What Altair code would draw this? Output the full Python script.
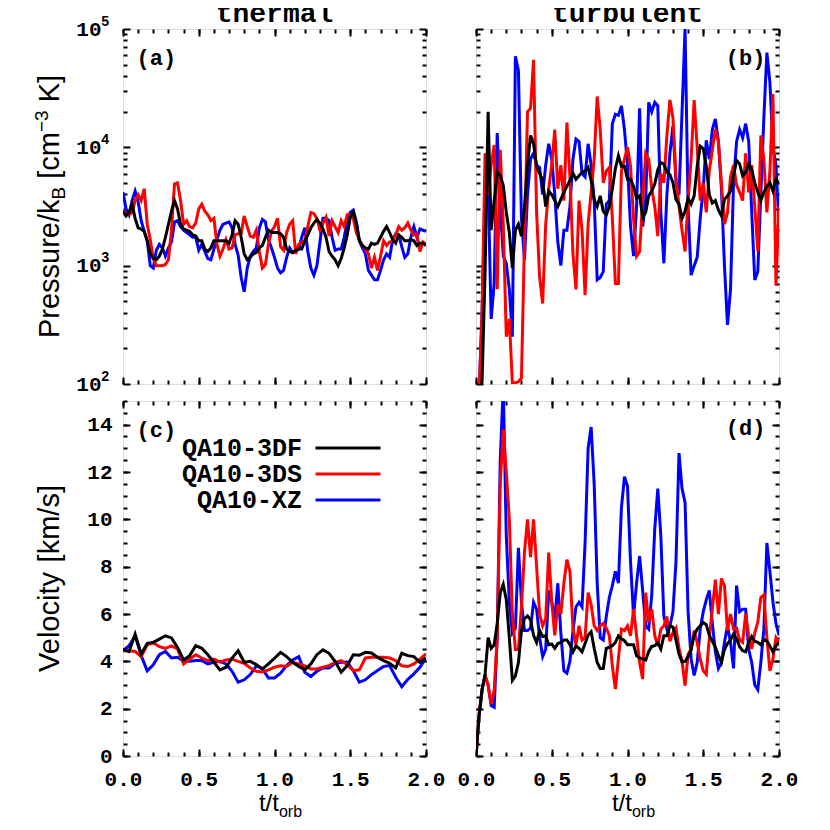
import altair as alt
import pandas as pd

RUNS = ["QA10-3DF", "QA10-3DS", "QA10-XZ"]
COLORS = ["#000000", "#ff0000", "#0000ff"]
DRAW_ORDER = ["QA10-XZ", "QA10-3DS", "QA10-3DF"]

T_FINE = [round(0.02 * i, 2) for i in range(101)]
T_COARSE = [round(0.04 * i, 2) for i in range(51)]

# ---- (a) thermal pressure, log10(P/kB) ----
a_3df = [3.46, 3.42, 3.45, 3.52, 3.40, 3.32, 3.31, 3.29, 3.21, 3.10, 3.06, 3.05, 3.08, 3.14, 3.24, 3.35, 3.46, 3.55, 3.48, 3.35,
         3.31, 3.30, 3.29, 3.26, 3.25, 3.21, 3.21, 3.14, 3.12, 3.15, 3.21, 3.21, 3.21, 3.21, 3.21, 3.19, 3.26, 3.38, 3.35, 3.24,
         3.10, 3.05, 3.07, 3.10, 3.11, 3.15, 3.17, 3.24, 3.30, 3.28, 3.28,
         3.28, 3.27, 3.24, 3.14, 3.12, 3.11, 3.13, 3.14, 3.14, 3.21, 3.26, 3.32, 3.36, 3.39, 3.36, 3.31, 3.24, 3.12, 3.08, 3.05,
         3.00, 3.06, 3.15, 3.26, 3.41, 3.45, 3.36, 3.21, 3.17, 3.15, 3.14, 3.19, 3.18, 3.19, 3.24, 3.29, 3.33, 3.28, 3.22, 3.19,
         3.26, 3.24, 3.21, 3.21, 3.22, 3.21, 3.17, 3.19, 3.19, 3.17]
a_3ds = [3.47, 3.44, 3.43, 3.45, 3.55, 3.60, 3.55, 3.65, 3.35, 3.22, 3.06, 3.00, 3.00, 3.00, 3.01, 3.05, 3.30, 3.69, 3.70, 3.55,
         3.35, 3.38, 3.33, 3.32, 3.36, 3.48, 3.52, 3.46, 3.43, 3.38, 3.40, 3.18, 3.08, 3.14, 3.22, 3.14, 3.15, 3.26, 3.27, 3.27,
         3.42, 3.33, 3.25, 3.24, 3.30, 3.12, 2.98, 3.01, 3.18, 3.29, 3.33,
         3.40, 3.16, 3.13, 3.28, 3.35, 3.38, 3.10, 3.18, 3.20, 3.21, 3.33, 3.45, 3.44, 3.40, 3.30, 3.36, 3.41, 3.25, 3.38, 3.33,
         3.28, 3.38, 3.33, 3.43, 3.43, 3.40, 3.28, 3.22, 3.17, 3.14, 3.10, 2.98, 3.07, 2.96, 3.08, 3.21, 3.17, 3.20, 3.21, 3.26,
         3.33, 3.30, 3.32, 3.36, 3.30, 3.26, 3.27, 3.12, 3.20, 3.18]
a_xz = [3.62, 3.48, 3.43, 3.55, 3.63, 3.54, 3.38, 3.29, 3.21, 3.00, 2.98, 3.13, 3.18, 3.15, 3.08, 3.15, 3.20, 3.37, 3.38, 3.33,
        3.30, 3.28, 3.26, 3.24, 3.24, 3.13, 3.18, 3.12, 3.06, 3.05, 3.14, 3.22, 3.30, 3.35, 3.36, 3.37, 3.32, 3.18, 3.09, 2.90,
        2.78, 2.98, 3.08, 3.12, 3.15, 3.32, 3.39, 3.37, 3.22, 3.15, 3.07,
        2.98, 2.94, 2.96, 3.07, 3.15, 3.11, 3.12, 3.14, 3.24, 3.32, 3.12, 2.98, 2.92, 3.00, 3.20, 3.40, 3.40, 3.38, 3.24, 3.13,
        3.14, 3.14, 3.24, 3.38, 3.45, 3.47, 3.37, 3.21, 3.15, 3.10, 2.96, 2.92, 2.88, 2.88, 2.96, 3.05, 3.10, 3.07, 3.22, 3.27,
        3.26, 3.16, 3.07, 3.10, 3.24, 3.33, 3.24, 3.31, 3.30, 3.29]

# ---- (b) turbulent pressure, log10(P/kB) ----
b_3df = [1.80, 1.90, 2.02, 2.95, 4.30, 3.30, 3.55, 3.79, 3.76, 3.68, 3.45, 3.28, 2.98, 3.30, 3.35, 3.25, 3.50, 3.85, 4.10, 4.03,
         3.84, 3.78, 3.72, 3.50, 3.63, 3.60, 3.55, 3.50, 3.56, 3.62, 3.67, 3.72, 3.78, 3.73, 3.76, 3.79, 3.80, 3.83, 3.72, 3.56,
         3.50, 3.59, 3.46, 3.43, 3.50, 3.65, 3.82, 3.93, 3.84, 3.84, 3.73,
         3.73, 3.67, 3.57, 3.59, 3.41, 3.45, 3.59, 3.63, 3.69, 3.81, 3.87, 3.86, 3.79, 3.77, 3.70, 3.56, 3.52, 3.40, 3.46, 3.57,
         3.52, 3.59, 3.84, 4.01, 3.99, 3.84, 3.60, 3.53, 3.55, 3.47, 3.42, 3.56, 3.59, 3.63, 3.76, 3.89, 3.86, 3.76, 3.79, 3.86,
         3.81, 3.70, 3.62, 3.55, 3.62, 3.67, 3.70, 3.63, 3.73, 3.69]
b_3ds = [1.80, 1.90, 2.60, 3.95, 3.60, 3.85, 4.02, 2.80, 3.98, 3.35, 2.40, 2.55, 2.01, 2.01, 2.02, 2.05, 3.20, 4.30, 4.33, 4.74,
         3.45, 2.90, 2.68, 3.35, 3.65, 3.85, 4.15, 3.65, 3.85, 3.55, 4.21, 3.75, 3.10, 2.80, 3.55, 3.30, 2.75, 3.35, 3.62, 3.90,
         4.43, 4.15, 3.70, 3.80, 3.83, 3.40, 2.85, 2.85, 3.80, 3.90, 4.00,
         3.84, 3.40, 3.08, 3.12, 3.55, 3.95, 3.90, 3.65, 3.50, 3.25, 3.78, 3.70, 4.10, 4.40, 4.25, 3.75, 3.50, 3.30, 3.12, 3.55,
         3.90, 4.40, 4.00, 3.55, 3.70, 3.45, 3.80, 3.98, 4.15, 4.05, 3.70, 3.35, 3.45, 3.75, 3.85, 3.68, 3.62, 3.55, 3.95, 3.62,
         3.85, 3.50, 3.12, 4.10, 3.90, 3.45, 3.80, 4.45, 2.83, 3.50]
b_xz = [1.80, 1.90, 2.60, 3.60, 3.70, 2.55, 2.85, 4.12, 3.50, 3.08, 3.02, 2.80, 2.40, 4.77, 4.65, 3.40, 3.05, 3.60, 3.90, 3.95,
        3.85, 3.83, 3.60, 3.85, 4.03, 3.90, 3.60, 3.20, 3.00, 3.30, 3.30, 3.50, 3.90, 4.07, 4.05, 3.78, 3.75, 4.03, 3.85, 3.55,
        2.88, 2.90, 2.95, 3.52, 3.55, 4.20, 4.28, 4.27, 4.35, 4.15, 3.85,
        3.33, 3.08, 3.50, 4.33, 3.33, 3.55, 4.38, 4.30, 4.38, 4.35, 3.45, 3.02, 3.60, 3.95, 4.18, 3.70, 3.60, 4.30, 5.00, 3.50,
        2.92, 3.00, 3.07, 3.40, 3.65, 4.06, 3.90, 4.15, 4.24, 4.05, 3.65, 3.00, 2.50, 2.80, 3.70, 4.05, 4.15, 4.08, 4.20, 4.05,
        3.45, 2.88, 2.95, 3.60, 4.25, 4.80, 4.55, 4.00, 3.85, 3.35]

# ---- (c) thermal velocity [km/s] (coarser sampling) ----
c_3df = [4.49, 4.41, 5.15, 4.31, 4.76, 4.80, 4.94, 5.08, 4.99, 4.59, 4.06, 4.24, 4.66, 4.55, 4.28, 3.96, 3.64, 3.75, 4.14, 4.45,
         3.96, 4.00, 3.86, 3.68, 3.89, 4.13, 4.38, 4.20, 3.96, 3.78, 3.64, 3.89, 4.28, 4.49, 4.34, 4.00, 3.54, 3.82, 4.28, 4.26,
         4.38, 4.35, 4.17, 4.03, 3.92, 3.72, 4.34, 4.24, 4.20, 3.96, 4.14]
c_3ds = [4.45, 4.45, 4.42, 4.20, 4.70, 4.79, 4.62, 4.55, 4.65, 4.52, 3.89, 4.10, 4.28, 4.14, 4.03, 4.09, 3.97, 4.06, 4.09, 4.00,
         3.92, 3.72, 3.58, 3.55, 3.64, 3.75, 3.81, 3.78, 3.96, 3.89, 3.81, 3.68, 3.68, 3.75, 3.82, 3.96, 4.03, 3.86, 3.61, 3.64,
         4.14, 4.17, 4.17, 4.17, 4.14, 4.03, 3.81, 3.78, 3.89, 4.09, 4.31]
c_xz = [4.45, 4.66, 5.08, 4.24, 3.60, 3.85, 4.28, 4.42, 4.14, 4.17, 4.00, 4.00, 4.03, 4.03, 3.89, 3.96, 4.00, 3.89, 3.58, 3.12,
        3.22, 3.44, 3.81, 3.69, 3.30, 3.30, 3.50, 3.82, 4.06, 4.20, 3.54, 3.36, 3.58, 3.72, 3.72, 3.92, 3.96, 3.97, 3.61, 3.12,
        3.22, 3.44, 3.61, 3.78, 3.82, 3.33, 2.93, 3.24, 3.47, 3.75, 4.14]

# ---- (d) turbulent velocity [km/s] ----
d_3df = [0.0, 1.7, 2.8, 3.45, 5.0, 4.55, 4.70, 5.60, 6.90, 7.25, 6.60, 5.00, 3.20, 3.39, 3.95, 5.30, 5.80, 5.92, 5.75, 5.10,
         4.80, 5.30, 5.05, 5.08, 4.70, 4.73, 4.55, 4.75, 4.80, 4.90, 4.90, 4.70, 4.40, 4.65, 4.55, 4.40, 4.75, 5.10, 5.25, 4.55,
         3.95, 3.70, 3.70, 4.55, 4.60, 4.66, 4.80, 5.08, 4.95, 4.87, 4.70,
         4.70, 4.70, 4.23, 4.15, 4.10, 4.05, 4.42, 4.63, 4.66, 4.78, 4.52, 5.08, 5.08, 5.50, 5.45, 4.90, 4.30, 3.98, 4.00, 4.20,
         4.50, 5.10, 5.36, 5.50, 5.64, 5.55, 5.10, 4.85, 4.60, 4.25, 3.95, 4.50, 4.75, 4.90, 5.15, 4.95, 4.62, 4.45, 4.40, 4.80,
         5.05, 4.85, 4.80, 4.70, 4.92, 4.85, 4.65, 4.40, 4.65, 4.80]
d_3ds = [0.0, 1.7, 2.8, 3.4, 3.0, 2.2, 2.8, 5.0, 11.5, 13.8, 12.0, 10.0, 6.0, 4.5, 4.5, 6.3, 8.6, 10.0, 8.4, 10.0,
         8.0, 6.0, 5.5, 5.8, 8.6, 6.5, 5.1, 6.4, 6.0, 7.3, 8.3, 7.8, 5.4, 4.7, 5.5, 4.9, 5.0, 6.9, 6.4, 5.5,
         5.3, 5.5, 5.6, 5.4, 5.1, 3.8, 2.83, 4.1, 5.36, 5.3, 5.5,
         5.08, 6.2, 5.08, 3.95, 3.25, 6.9, 5.64, 6.2, 5.08, 4.66, 5.36, 5.50, 5.90, 4.85, 5.20, 5.40, 4.55, 4.00, 2.97, 4.30,
         4.52, 5.30, 4.80, 4.10, 3.60, 3.45, 5.00, 6.20, 7.45, 6.00, 7.50, 7.20, 5.30, 6.00, 5.36, 5.40, 4.90, 4.80, 6.00, 5.08,
         4.52, 5.20, 5.65, 6.70, 6.80, 5.00, 3.60, 4.10, 5.00, 4.80]
d_xz = [0.0, 1.7, 2.8, 3.4, 3.0, 2.13, 2.06, 5.0, 12.5, 15.6, 9.3, 6.5, 5.2, 5.4, 8.8, 6.5, 5.3, 5.3, 5.4, 6.5,
        6.2, 5.0, 4.2, 4.5, 7.0, 6.5, 5.8, 7.3, 5.2, 3.6, 3.5, 4.0, 5.3, 6.3, 6.5, 6.3, 9.0, 13.0, 13.9, 11.5,
        7.3, 5.0, 4.9, 5.9, 6.7, 7.2, 7.8, 7.3, 10.5, 11.8, 11.4,
        8.2, 5.9, 7.3, 8.45, 7.0, 5.5, 5.36, 6.8, 9.6, 11.3, 9.3, 5.9, 5.36, 5.5, 6.1, 8.2, 12.8, 11.3, 10.7, 6.1,
        4.1, 3.4, 3.95, 5.36, 6.1, 6.6, 7.0, 5.6, 4.4, 3.7, 3.95, 4.8, 5.5, 4.8, 3.7, 7.2, 6.1, 6.2, 6.2, 4.5,
        3.95, 3.0, 2.8, 3.95, 5.36, 9.0, 7.8, 6.5, 5.6, 5.1]

X_MAJOR = [0, 0.5, 1.0, 1.5, 2.0]
X_MINOR = [round(0.1 * i, 1) for i in range(21)]
P_MAJOR = [100, 1000, 10000, 100000]
P_MINOR = [k * 10 ** e for e in (2, 3, 4) for k in range(2, 10)]
V_MAJOR = list(range(0, 15, 2))
V_MINOR = [0.5 * i for i in range(31)]

W, H = 303, 355
MAJ, MIN = 7, 4
NUM_FONT = "Liberation Mono"
SANS = "Liberation Sans"
TS = 29      # axis-title font size
SS = 19      # sub/superscript size

# Arial / Liberation Sans advance widths (em)
CW = {"P": .667, "r": .333, "e": .556, "s": .5, "u": .556, "/": .278, "k": .5, "B": .667, " ": .278,
      "[": .278, "c": .5, "m": .833, "-": .333, "\u2212": .584, "3": .556, "K": .667, "]": .278, "V": .667,
      "l": .222, "o": .556, "i": .222, "t": .278, "y": .5, "b": .556}


def tw(s, size):
    return sum(CW.get(ch, .556) for ch in s) * size


def long_df(t, series, log=False):
    rows = []
    for run in DRAW_ORDER:
        for ti, v in zip(t, series[run]):
            rows.append({"t": ti, "val": 10 ** v if log else v, "run": run})
    return pd.DataFrame(rows)


def ax(orient, values, size, labels=False, **kw):
    return alt.Axis(orient=orient, values=values, tickSize=size, offset=-size, domain=False, grid=False,
                    labels=labels, ticks=True, tickColor="black", tickWidth=2, title=None,
                    labelFlush=False, labelOverlap=False, **kw)


LBL = dict(labelFont=NUM_FONT, labelFontSize=21, labelFontWeight="bold", labelColor="black")


def text_at(text, x0, y0, **kw):
    return alt.Chart(pd.DataFrame({"s": [text]})).mark_text(color="black", **kw).encode(
        text="s:N", x=alt.value(x0), y=alt.value(y0))


def rich_text_layer(pieces, x0, y0, angle=0):
    """pieces: list of (text, size, dy, gap_before); laid out along the text direction."""
    layers = []
    pos = 0.0
    for text, size, dy, gap in pieces:
        pos += gap
        kw = dict(align="left", baseline="alphabetic", font=SANS, fontSize=size, dx=pos, dy=dy)
        if angle:
            kw["angle"] = angle
        layers.append(text_at(text, x0, y0, **kw))
        pos += tw(text, size)
    return layers, pos


LEG_COMMON = dict(orient="none", legendY=37, title=None, labelFont=NUM_FONT, labelFontSize=25,
                  labelFontWeight="bold", clipHeight=20, rowPadding=1, padding=0)


def panel(df, kind, show_xlab, show_ylab, letter, letter_pos, title=None, with_legend=False):
    xs = alt.Scale(domain=[0, 2], nice=False, zero=False)
    if kind == "p":
        ys = alt.Scale(type="log", domain=[100, 100000], nice=False)
        ymaj, ymin = P_MAJOR, P_MINOR
    else:
        ys = alt.Scale(domain=[0, 15], nice=False, zero=False)
        ymaj, ymin = V_MAJOR, V_MINOR
    cscale = alt.Scale(domain=RUNS, range=COLORS)

    def X(axis):
        return alt.X("t:Q", scale=xs, axis=axis)

    def Y(axis):
        return alt.Y("val:Q", scale=ys, axis=axis)

    xb = ax("bottom", X_MAJOR, MAJ, labels=show_xlab, format=".1f", labelPadding=12, **LBL)
    if kind == "p":
        yl = ax("left", ymaj, MAJ, labels=show_ylab, labelExpr="'10'", labelPadding=22, **LBL)
    else:
        yl = ax("left", ymaj, MAJ, labels=show_ylab, format="d", labelPadding=11, **LBL)

    if with_legend:
        # line samples only (labels drawn by the second legend, to their left)
        color_legend = alt.Legend(legendX=191, symbolType="stroke", symbolSize=4225, symbolStrokeWidth=3,
                                  labelOpacity=0, **LEG_COMMON)
    else:
        color_legend = None

    base = alt.Chart(df)
    layers = []
    for i, run in enumerate(DRAW_ORDER):
        layers.append(base.transform_filter(alt.datum.run == run).mark_line(strokeWidth=3, clip=True).encode(
            x=X(xb if i == 0 else None), y=Y(yl if i == 0 else None),
            color=alt.Color("run:N", scale=cscale, legend=color_legend)))
    ghost = base.mark_line(opacity=0)
    layers.append(ghost.encode(x=X(ax("top", X_MAJOR, MAJ)), y=Y(ax("right", ymaj, MAJ))))
    layers.append(ghost.encode(x=X(ax("bottom", X_MINOR, MIN)), y=Y(ax("left", ymin, MIN))))
    layers.append(ghost.encode(x=X(ax("top", X_MINOR, MIN)), y=Y(ax("right", ymin, MIN))))
    if kind == "p" and show_ylab:
        expo = ax("left", ymaj, MAJ, labels=True, labelExpr="'' + round(log(datum.value) / LN10)",
                  labelPadding=14, labelOffset=-8, tickOpacity=0,
                  labelFont=NUM_FONT, labelFontSize=14, labelFontWeight="bold", labelColor="black")
        layers.append(ghost.encode(x=X(None), y=Y(expo)))
    if with_legend:
        # text labels of the legend, right-aligned to the left of the line samples
        label_legend = alt.Legend(legendX=154, symbolOpacity=0, symbolSize=1, labelAlign="right", labelOffset=0,
                                  labelColor="black", labelLimit=400,
                                  labelExpr="substring(datum.label, 1)", **LEG_COMMON)
        layers.append(ghost.transform_calculate(key="'L' + datum.run").encode(
            x=X(None), y=Y(None),
            strokeDash=alt.StrokeDash("key:N", scale=alt.Scale(domain=["L" + r for r in RUNS],
                                                               range=[[1, 0], [1, 0], [1, 0]]),
                                      legend=label_legend)))

    lab = pd.DataFrame({"t": [letter_pos[0]], "val": [letter_pos[1]], "s": [letter]})
    layers.append(alt.Chart(lab).mark_text(font=NUM_FONT, fontSize=22, fontWeight="bold", color="black")
                  .encode(x=X(None), y=Y(None), text="s:N"))

    if show_ylab:
        if kind == "p":
            pieces = [("Pressure/k", TS, 0, 0), ("B", SS, 6, 0), ("[cm", TS, 0, tw(" ", TS)),
                      ("\u22123", SS, -11, 0), ("K]", TS, 0, tw(" ", TS))]
        else:
            pieces = [("Velocity", TS, 0, 0), ("[km/s]", TS, 0, tw(" ", TS))]
        _, total = rich_text_layer(pieces, 0, 0)
        tl, _ = rich_text_layer(pieces, -64, H / 2 + total / 2, angle=270)
        layers += tl
    if show_xlab:
        pieces = [("t/t", 24, 0, 0), ("orb", 16, 6, 0)]
        _, total = rich_text_layer(pieces, 0, 0)
        tl, _ = rich_text_layer(pieces, W / 2 - total / 2 + 6, H + 55)
        layers += tl
    if title:
        layers.append(text_at(title, W / 2, -7, align="center", baseline="alphabetic", font=NUM_FONT,
                              fontSize=28, fontWeight="bold"))

    return alt.layer(*layers).resolve_axis(x="independent", y="independent").properties(width=W, height=H)


pa = panel(long_df(T_FINE, {"QA10-3DF": a_3df, "QA10-3DS": a_3ds, "QA10-XZ": a_xz}, log=True), "p",
           False, True, "(a)", (0.22, 57000), title="thermal")
pb = panel(long_df(T_FINE, {"QA10-3DF": b_3df, "QA10-3DS": b_3ds, "QA10-XZ": b_xz}, log=True), "p",
           False, False, "(b)", (1.78, 57000), title="turbulent")
pc = panel(long_df(T_COARSE, {"QA10-3DF": c_3df, "QA10-3DS": c_3ds, "QA10-XZ": c_xz}), "v",
           True, True, "(c)", (0.22, 13.76), with_legend=True)
pd_ = panel(long_df(T_FINE, {"QA10-3DF": d_3df, "QA10-3DS": d_3ds, "QA10-XZ": d_xz}), "v",
            True, False, "(d)", (1.78, 13.85))

chart = (alt.concat(pa, pb, pc, pd_, columns=2, spacing={"row": 17, "column": 50}, bounds="flush")
         .resolve_scale(color="independent", strokeDash="independent")
         .configure_view(stroke="black", strokeWidth=2.5)
         .configure(background="white")
         .properties(padding={"left": 24, "top": -9, "right": 5, "bottom": 5}))

chart.save("out.html", embed_options={"renderer": "svg", "actions": False})
